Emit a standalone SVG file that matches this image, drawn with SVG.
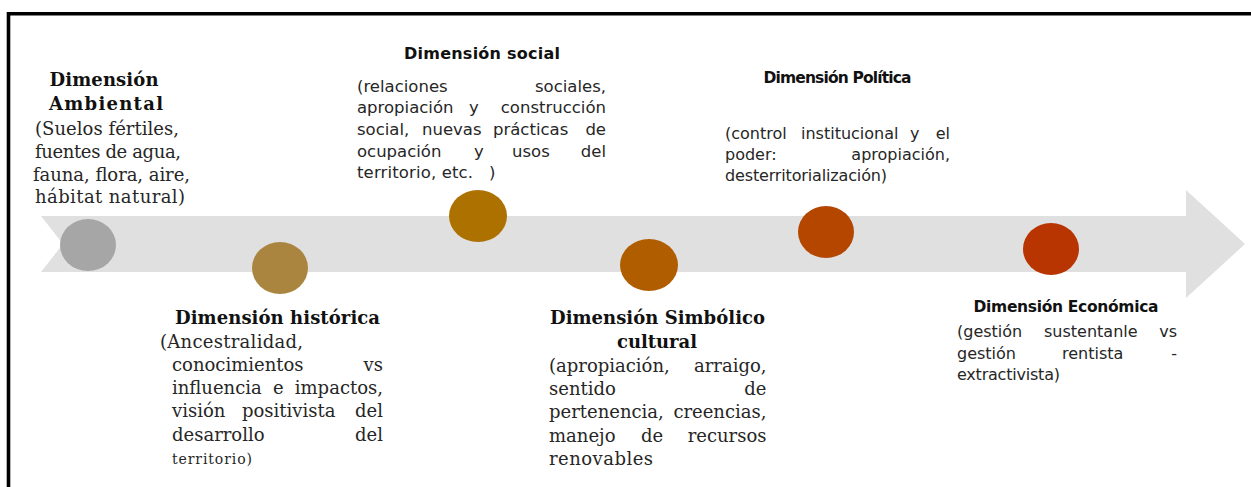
<svg xmlns="http://www.w3.org/2000/svg" width="1251" height="487" viewBox="0 0 1251 487">
<style>
.hs{font-family:"DejaVu Serif","Liberation Serif",serif;font-weight:bold;font-size:18px;fill:#111}
.bs{font-family:"DejaVu Serif","Liberation Serif",serif;font-size:18px;fill:#262626}
.hn{font-family:"DejaVu Sans","Liberation Sans",sans-serif;font-weight:bold;font-size:15.5px;fill:#111}
.bn{font-family:"DejaVu Sans","Liberation Sans",sans-serif;font-size:16.5px;fill:#262626}
.bn2{font-family:"DejaVu Sans","Liberation Sans",sans-serif;font-size:16px;fill:#262626}
.m{text-anchor:middle}
.e{text-anchor:end}
</style>
<rect width="1251" height="487" fill="#fff"/>
<path d="M8.5 487V13.8H1251" fill="none" stroke="#000" stroke-width="3.6"/>
<g id="connectors">
<polygon points="41,216 1186,216 1186,190 1245,244 1186,298 1186,272 41,272 63,244" fill="#e0e0e0"/>
</g>
<g id="ambiental">
<ellipse cx="88" cy="245" rx="28" ry="26" fill="#a6a6a6"/>
<text class="hs m" x="104" y="86" textLength="109">Dimensión</text>
<text class="hs m" x="106" y="110" textLength="114">Ambiental</text>
<text class="bs m" x="107" y="135" textLength="144">(Suelos fértiles,</text>
<text class="bs m" x="108" y="158" textLength="146">fuentes de agua,</text>
<text class="bs m" x="111.5" y="181" textLength="157">fauna, flora, aire,</text>
<text class="bs m" x="110" y="203" textLength="150">hábitat natural)</text>
</g>
<g id="historica">
<ellipse cx="280" cy="268" rx="28" ry="26" fill="#a9853f"/>
<text class="hs m" x="277.5" y="324" textLength="205">Dimensión histórica</text>
<text class="bs" x="160" y="348" textLength="143">(Ancestralidad,</text>
<text class="bs" x="172" y="371">conocimientos</text>
<text class="bs e" x="383" y="371">vs</text>
<text class="bs" x="172" y="394">influencia</text>
<text class="bs" x="273" y="394">e</text>
<text class="bs e" x="383" y="394">impactos,</text>
<text class="bs" x="172" y="417">visión</text>
<text class="bs" x="242" y="417">positivista</text>
<text class="bs e" x="383" y="417">del</text>
<text class="bs" x="172" y="441">desarrollo</text>
<text class="bs e" x="383" y="441">del</text>
<text class="bs" x="172" y="464" style="font-size:14px" textLength="80">territorio)</text>
</g>
<g id="social">
<ellipse cx="478" cy="216" rx="29" ry="26" fill="#ad7100"/>
<text class="hn m" x="482" y="59" style="font-size:16px" textLength="156">Dimensión social</text>
<text class="bn" x="357" y="92">(relaciones</text>
<text class="bn e" x="606" y="92">sociales,</text>
<text class="bn" x="357" y="113">apropiación</text>
<text class="bn" x="469" y="113">y</text>
<text class="bn e" x="606" y="113">construcción</text>
<text class="bn" x="357" y="135">social,</text>
<text class="bn" x="422" y="135">nuevas</text>
<text class="bn" x="493" y="135">prácticas</text>
<text class="bn e" x="606" y="135">de</text>
<text class="bn" x="357" y="157">ocupación</text>
<text class="bn" x="474" y="157">y</text>
<text class="bn" x="512" y="157">usos</text>
<text class="bn e" x="606" y="157">del</text>
<text class="bn" x="357" y="178" textLength="116">territorio, etc.</text>
<text class="bn" x="489" y="178">)</text>
</g>
<g id="simbolico">
<ellipse cx="649" cy="265" rx="29" ry="26" fill="#b05d00"/>
<text class="hs m" x="657.5" y="324" textLength="215">Dimensión Simbólico</text>
<text class="hs m" x="657" y="348" textLength="80">cultural</text>
<text class="bs" x="549" y="372">(apropiación,</text>
<text class="bs e" x="766.5" y="372">arraigo,</text>
<text class="bs" x="549" y="395">sentido</text>
<text class="bs e" x="766.5" y="395">de</text>
<text class="bs" x="549" y="418">pertenencia,</text>
<text class="bs e" x="766.5" y="418">creencias,</text>
<text class="bs" x="549" y="442">manejo</text>
<text class="bs" x="641" y="442">de</text>
<text class="bs e" x="766.5" y="442">recursos</text>
<text class="bs" x="549" y="465" textLength="104">renovables</text>
</g>
<g id="politica">
<ellipse cx="826" cy="232" rx="28" ry="26" fill="#b44600"/>
<text class="hn m" x="837.5" y="83" textLength="148">Dimensión Política</text>
<text class="bn2" x="725" y="139">(control</text>
<text class="bn2" x="801" y="139">institucional</text>
<text class="bn2" x="910" y="139">y</text>
<text class="bn2 e" x="950" y="139">el</text>
<text class="bn2" x="725" y="160">poder:</text>
<text class="bn2 e" x="950" y="160">apropiación,</text>
<text class="bn2" x="725" y="181" textLength="162">desterritorialización)</text>
</g>
<g id="economica">
<ellipse cx="1051" cy="249" rx="28" ry="26" fill="#b83400"/>
<text class="hn m" x="1066" y="312" textLength="185">Dimensión Económica</text>
<text class="bn2" x="957" y="337">(gestión</text>
<text class="bn2" x="1044" y="337">sustentanle</text>
<text class="bn2 e" x="1177" y="337">vs</text>
<text class="bn2" x="957" y="359">gestión</text>
<text class="bn2" x="1062" y="359">rentista</text>
<text class="bn2 e" x="1177" y="359">-</text>
<text class="bn2" x="957" y="380" textLength="103">extractivista)</text>
</g>
</svg>
